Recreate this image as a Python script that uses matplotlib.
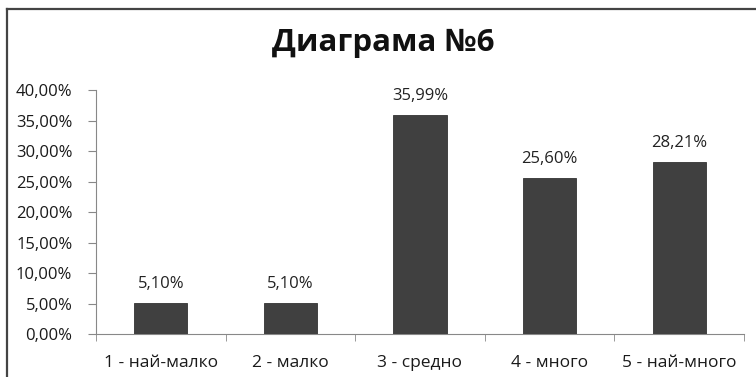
import matplotlib
matplotlib.use("Agg")
import matplotlib.pyplot as plt
from matplotlib.lines import Line2D
from matplotlib.ticker import FuncFormatter, FixedLocator

categories = ["1 - най-малко", "2 - малко", "3 - средно", "4 - много", "5 - най-много"]
values = [5.10, 5.10, 35.99, 25.60, 28.21]
title = "Диаграма №6"

plt.rcParams["font.family"] = ["Open Sans", "DejaVu Sans"]

fig = plt.figure(figsize=(7.56, 3.77), dpi=100)
ax = fig.add_axes([0.127, 0.114, 0.857, 0.647])

x = list(range(len(categories)))
ax.bar(x, values, width=0.41, color="#404040", edgecolor="#333333", linewidth=0.6, zorder=3)

for xi, v in zip(x, values):
    ax.text(xi, v + 1.8, f"{v:.2f}%".replace(".", ","), ha="center", va="bottom",
            fontsize=12, color="#222222")

ax.set_xlim(-0.5, len(categories) - 0.5)
ax.set_ylim(0, 40)
ax.set_yticks(range(0, 41, 5))
ax.yaxis.set_major_formatter(FuncFormatter(lambda v, p: f"{v:.2f}%".replace(".", ",")))
ax.set_xticks(x)
ax.set_xticklabels(categories)
ax.xaxis.set_minor_locator(FixedLocator([i - 0.5 for i in range(len(categories) + 1)]))
ax.tick_params(axis="x", which="major", length=0, pad=15, labelsize=12.5, labelcolor="#1a1a1a")
ax.tick_params(axis="x", which="minor", length=5, direction="out", color="#888888")
ax.tick_params(axis="y", length=6, color="#888888", labelsize=12, labelcolor="#1a1a1a", pad=11)

for s in ["top", "right"]:
    ax.spines[s].set_visible(False)
ax.spines["left"].set_color("#888888")
ax.spines["bottom"].set_color("#888888")

fig.text(0.507, 0.885, title, ha="center", va="center", fontsize=22.5, fontweight="bold", color="#111111")

# outer frame
fig.add_artist(Line2D([0.0093, 1.0], [0.976, 0.976], transform=fig.transFigure, color="#444444", lw=1.6))
fig.add_artist(Line2D([0.0093, 0.0093], [0.0, 0.976], transform=fig.transFigure, color="#444444", lw=1.6))

fig.savefig("out.png", dpi=100, facecolor="white")
